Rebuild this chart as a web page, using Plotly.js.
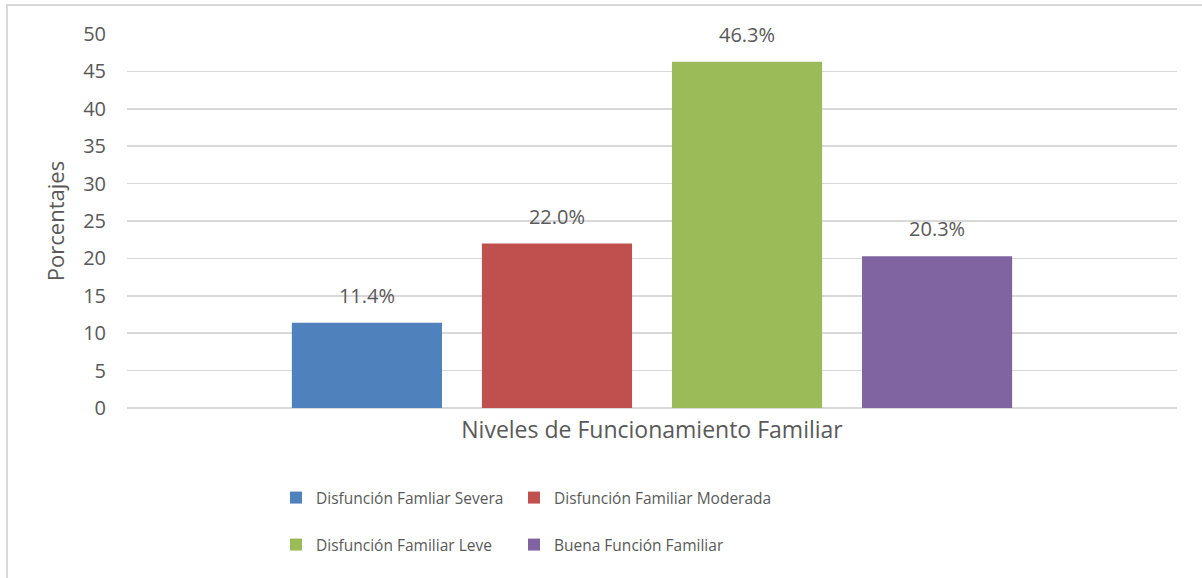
<!DOCTYPE html>
<html>
<head>
<meta charset="utf-8">
<script src="https://cdn.plot.ly/plotly-3.0.1.min.js"></script>
<style>
  html, body { margin: 0; padding: 0; background: #ffffff; }
  #wrap { position: relative; width: 1202px; height: 578px; overflow: hidden; }
  #chart { position: absolute; left: 0; top: 0; width: 1202px; height: 578px; }
  #frame { position: absolute; left: 6px; top: 4px; width: 1210px; height: 590px;
           border-top: 2px solid #d9d9d9; border-left: 2px solid #d9d9d9; pointer-events: none; }
</style>
</head>
<body>
<div id="wrap">
  <div id="chart"></div>
  <div id="frame"></div>
</div>
<script>
const categories = ['Niveles de Funcionamiento Familiar'];
const seriesNames = [
  'Disfunción Famliar Severa',
  'Disfunción Familiar Moderada',
  'Disfunción Familiar Leve',
  'Buena Función Familiar'
];
const seriesValues = [11.4, 22.0, 46.3, 20.3];
const seriesColors = ['#4F81BD', '#C0504D', '#9BBB59', '#8064A2'];
const legendIds = ['legend', 'legend2', 'legend3', 'legend4'];
const yTicks = [0, 5, 10, 15, 20, 25, 30, 35, 40, 45, 50];

const FONT = '"Open Sans", "Noto Sans", sans-serif';
const TXT = '#595959';

const barTraces = seriesNames.map((name, i) => ({
  type: 'bar',
  name: name,
  x: categories,
  y: [seriesValues[i]],
  offsetgroup: 'g' + i,
  marker: { color: seriesColors[i] },
  legend: legendIds[i],
  hoverinfo: 'skip'
}));

const labelTraces = seriesNames.map((name, i) => ({
  type: 'scatter',
  mode: 'markers+text',
  name: name + ' (etiqueta)',
  x: categories,
  y: [seriesValues[i]],
  offsetgroup: 'g' + i,
  marker: { size: 22, opacity: 0, color: seriesColors[i] },
  text: [seriesValues[i].toFixed(1) + '%'],
  textposition: 'top center',
  textfont: { family: FONT, size: 20, color: TXT },
  cliponaxis: false,
  showlegend: false,
  hoverinfo: 'skip'
}));

function legendAt(px, py) {
  return {
    orientation: 'h',
    xref: 'container', yref: 'container',
    xanchor: 'left', yanchor: 'middle',
    x: px / 1202, y: 1 - py / 578,
    font: { family: FONT, size: 15.5, color: TXT },
    bgcolor: 'rgba(0,0,0,0)',
    itemclick: false, itemdoubleclick: false
  };
}

const layout = {
  width: 1202, height: 578,
  margin: { l: 127, r: 25, t: 34, b: 170 },
  paper_bgcolor: '#ffffff',
  plot_bgcolor: '#ffffff',
  barmode: 'group',
  scattermode: 'group',
  bargap: 0.276,
  bargroupgap: 0.21,
  font: { family: FONT, color: TXT },
  showlegend: true,
  xaxis: {
    type: 'category',
    showgrid: false,
    showline: false,
    ticks: '',
    tickfont: { family: FONT, size: 23, color: TXT },
    ticklabelstandoff: 6,
    fixedrange: true
  },
  yaxis: {
    range: [0, 50],
    tickvals: yTicks,
    ticktext: yTicks.map(String),
    showgrid: true,
    gridcolor: '#d9d9d9',
    gridwidth: 1.5,
    zeroline: true,
    zerolinecolor: '#d9d9d9',
    zerolinewidth: 1.5,
    showline: false,
    ticks: '',
    tickfont: { family: FONT, size: 20, color: TXT },
    ticklabelstandoff: 20,
    title: { text: 'Porcentajes', font: { family: FONT, size: 22, color: TXT }, standoff: 12 },
    fixedrange: true
  },
  legend: legendAt(276, 498),
  legend2: legendAt(514, 498),
  legend3: legendAt(276, 545),
  legend4: legendAt(514, 545)
};

Plotly.newPlot('chart', barTraces.concat(labelTraces), layout, { displayModeBar: false, staticPlot: true });
</script>
</body>
</html>
